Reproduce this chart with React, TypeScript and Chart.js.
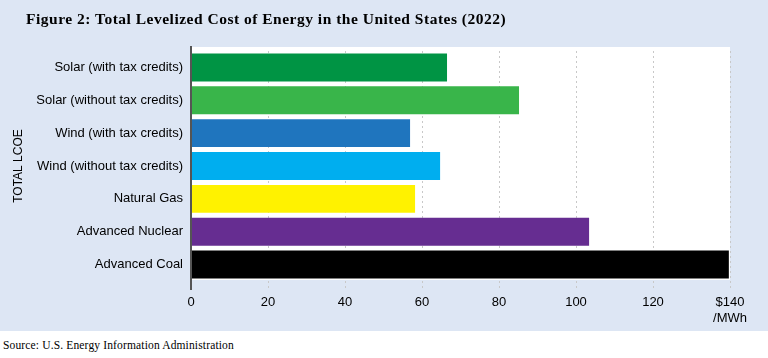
import React, { useEffect, useRef } from "react";
import { Chart, registerables } from "chart.js";

Chart.register(...registerables);

const categories = [
  "Solar (with tax credits)",
  "Solar (without tax credits)",
  "Wind (with tax credits)",
  "Wind (without tax credits)",
  "Natural Gas",
  "Advanced Nuclear",
  "Advanced Coal",
];
const lcoeValues = [66.5, 85.2, 56.9, 64.7, 58.2, 103.4, 139.7];
const barColors = ["#009444", "#39b54a", "#1f75be", "#00aeef", "#fff200", "#662d91", "#000000"];
const xTickMax = 140;
const xTickStep = 20;
const titleText = "Figure 2: Total Levelized Cost of Energy in the United States (2022)";
const sourceText = "Source: U.S. Energy Information Administration";
const yAxisTitle = "TOTAL LCOE";
const lastTickLabel = ["$140", "/MWh"];

const BG = "#dde6f4";

const panelPlugin = {
  id: "panel",
  beforeDraw(chart: any) {
    const { ctx, chartArea } = chart;
    ctx.save();
    ctx.fillStyle = "#ffffff";
    ctx.fillRect(chartArea.left, chartArea.top - 4, chartArea.right - chartArea.left, chartArea.bottom - chartArea.top + 3);
    ctx.restore();
  },
  afterDatasetsDraw(chart: any) {
    const { ctx, chartArea } = chart;
    ctx.save();
    ctx.strokeStyle = "#555555";
    ctx.lineWidth = 2;
    ctx.beginPath();
    ctx.moveTo(chartArea.left, chartArea.top - 5);
    ctx.lineTo(chartArea.left, chartArea.bottom + 9);
    ctx.stroke();
    ctx.restore();
  },
};

export default function App() {
  const ref = useRef<HTMLCanvasElement | null>(null);
  useEffect(() => {
    if (!ref.current) return;
    const chart = new Chart(ref.current, {
      type: "bar",
      data: {
        labels: categories,
        datasets: [
          {
            data: lcoeValues,
            backgroundColor: barColors,
            borderWidth: 0,
            barPercentage: 0.85,
            categoryPercentage: 1,
          },
        ],
      },
      options: {
        indexAxis: "y",
        animation: false,
        responsive: false,
        maintainAspectRatio: false,
        layout: { padding: { top: 51, right: 38, bottom: 0, left: 0 } },
        plugins: { legend: { display: false }, tooltip: { enabled: false }, title: { display: false } },
        scales: {
          x: {
            min: 0,
            max: xTickMax,
            ticks: {
              stepSize: xTickStep,
              color: "#000000",
              padding: 5,
              font: { family: "'Liberation Sans', Arial, sans-serif", size: 13 },
              callback: (v: any) => (Number(v) === xTickMax ? lastTickLabel : String(v)),
            },
            grid: {
              color: "#c8c8c8",
              lineWidth: 1,
              tickLength: 9,
              tickColor: "#c8c8c8",
              tickBorderDash: [2, 3],
            },
            border: { display: false, dash: [2, 3] },
            afterFit: (s: any) => {
              s.height = 50;
            },
          },
          y: {
            ticks: {
              color: "#000000",
              padding: 8,
              font: { family: "'Liberation Sans', Arial, sans-serif", size: 13 },
            },
            grid: { display: false, drawTicks: false },
            border: { display: false },
            title: {
              display: true,
              text: yAxisTitle,
              color: "#000000",
              padding: { top: 11, bottom: 0 },
              font: { family: "'Liberation Sans', Arial, sans-serif", size: 12 },
            },
            afterFit: (s: any) => {
              s.width = 191;
            },
          },
        },
      },
      plugins: [panelPlugin],
    });
    return () => chart.destroy();
  }, []);

  return (
    <div style={{ position: "absolute", left: 0, top: 0, width: 768, height: 358, background: "#ffffff" }}>
      <div style={{ position: "absolute", left: 0, top: 0, width: 768, height: 331, background: BG }} />
      <canvas ref={ref} width={768} height={331} style={{ position: "absolute", left: 0, top: 0, width: 768, height: 331 }} />
      <div
        style={{
          position: "absolute",
          left: 26,
          top: 10,
          fontFamily: "'Liberation Serif', 'Times New Roman', serif",
          fontWeight: "bold",
          fontSize: 15.5,
          letterSpacing: "0.5px",
          lineHeight: "18px",
          color: "#000",
          whiteSpace: "nowrap",
        }}
      >
        {titleText}
      </div>
      <div
        style={{
          position: "absolute",
          left: 3,
          top: 338,
          fontFamily: "'Liberation Serif', 'Times New Roman', serif",
          fontSize: 11.5,
          letterSpacing: "0.15px",
          lineHeight: "14px",
          color: "#000",
          whiteSpace: "nowrap",
        }}
      >
        {sourceText}
      </div>
    </div>
  );
}
